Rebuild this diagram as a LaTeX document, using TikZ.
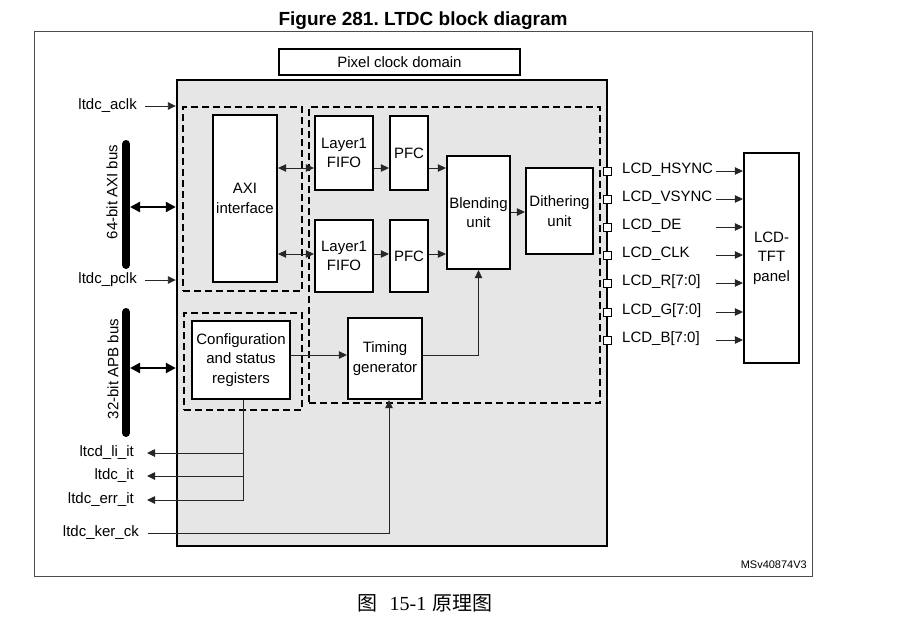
\documentclass[tikz,border=0pt]{standalone}
\usepackage{fontspec}
\setmainfont{Liberation Sans}
\newfontfamily\cjk{Noto Sans CJK SC}
\newfontfamily\serifnum{Liberation Serif}
\usetikzlibrary{arrows.meta,calc}
\definecolor{boxgray}{HTML}{E6E6E6}
\frenchspacing
\begin{document}
\begin{tikzpicture}[x=1pt,y=-1pt,font=\fontsize{15}{19.5}\selectfont,
  blk/.style={draw, line width=2.2pt, fill=white, align=center, inner sep=0pt},
  dom/.style={draw, line width=2pt, dash pattern=on 7pt off 4pt, inner sep=0pt},
  conn/.style={line width=0.9pt, draw=black!85},
  arr/.style={conn, -{Triangle[length=8pt,width=7.5pt]}},
  darr/.style={conn, {Triangle[length=8pt,width=7.5pt]}-{Triangle[length=8pt,width=7.5pt]}},
  busbar/.style={line width=8pt, line cap=round},
  busarr/.style={line width=2.2pt, {Triangle[length=10pt,width=10pt]}-{Triangle[length=10pt,width=10pt]}},
  lbl/.style={inner sep=0pt},
  pin/.style={draw, line width=0.8pt, fill=white, minimum size=8pt, inner sep=0pt}]
\useasboundingbox (0,0) rectangle (911,622);

% frame and title
\node[draw=black!70, line width=0.8pt, minimum width=778pt, minimum height=545pt, inner sep=0pt] (frame) at (423,303.5) {};
\node[lbl, anchor=base, font=\fontsize{19}{22}\selectfont\bfseries] (title) at (423,25) {Figure 281. LTDC block diagram};

% main box
\node[draw, line width=2.4pt, fill=boxgray, minimum width=430pt, minimum height=466pt, inner sep=0pt] (main) at (392,313) {};
\node[blk, minimum width=241pt, minimum height=26pt] (pcd) at (399.5,62) {Pixel clock domain};

% domains
\node[dom, minimum width=119pt, minimum height=184pt] (axidom) at (242.5,199) {};
\node[dom, minimum width=118pt, minimum height=97pt] (cfgdom) at (243,361.5) {};
\node[dom, minimum width=291pt, minimum height=296pt] (pixdom) at (454.5,255) {};

% blocks
\node[blk, minimum width=64pt, minimum height=167pt] (axi) at (245,198.5) {AXI\\interface};
\node[blk, minimum width=58pt, minimum height=74pt] (fifo1) at (344,153) {Layer1\\FIFO};
\node[blk, minimum width=58pt, minimum height=72pt] (fifo2) at (344,256) {Layer1\\FIFO};
\node[blk, minimum width=38pt, minimum height=74pt] (pfc1) at (409,153) {PFC};
\node[blk, minimum width=38pt, minimum height=72pt] (pfc2) at (409,256) {PFC};
\node[blk, minimum width=63pt, minimum height=113pt] (blend) at (478.5,212.5) {Blending\\unit};
\node[blk, minimum width=67pt, minimum height=86pt] (dither) at (559.5,211) {Dithering\\unit};
\node[blk, minimum width=98pt, minimum height=78pt] (cfg) at (241,360) {Configuration\\and status\\registers};
\node[blk, minimum width=74pt, minimum height=81pt] (timing) at (385,358.5) {Timing\\generator};
\node[blk, minimum width=55pt, minimum height=210pt] (panel) at (771.5,258) {LCD-\\TFT\\panel};

% internal connectors
\draw[darr] (axi.east |- 0,168) -- (fifo1.west |- 0,168);
\draw[darr] (axi.east |- 0,254) -- (fifo2.west |- 0,254);
\draw[arr] (fifo1.east |- 0,168) -- (pfc1.west |- 0,168);
\draw[arr] (fifo2.east |- 0,254) -- (pfc2.west |- 0,254);
\draw[arr] (pfc1.east |- 0,168) -- (blend.west |- 0,168);
\draw[arr] (pfc2.east |- 0,254) -- (blend.west |- 0,254);
\draw[arr] (blend.east |- 0,212) -- (dither.west |- 0,212);
\draw[arr] (cfg.east |- 0,355) -- (timing.west |- 0,355);
\draw[arr] (timing.east |- 0,355) -| (blend.south);

% left clocks
\node[lbl, anchor=east] (aclk) at (137,106) {ltdc\_aclk};
\node[lbl, anchor=east] (pclk) at (137,280) {ltdc\_pclk};
\draw[arr] ([xshift=8pt]aclk.east) -- (aclk.east -| main.west);
\draw[arr] ([xshift=8pt]pclk.east) -- (pclk.east -| main.west);

% buses
\coordinate (axitop) at (126,144);
\coordinate (axibot) at (126,265);
\coordinate (axiport) at (130,207);
\draw[busbar] (axitop) -- (axibot);
\draw[busarr] (axiport) -- (axiport -| main.west);
\node[lbl, rotate=90] (axilbl) at (112,192) {64-bit AXI bus};
\coordinate (apbtop) at (126,312);
\coordinate (apbbot) at (126,433);
\coordinate (apbport) at (130,368);
\draw[busbar] (apbtop) -- (apbbot);
\draw[busarr] (apbport) -- (apbport -| main.west);
\node[lbl, rotate=90] (apblbl) at (113,369) {32-bit APB bus};

% interrupts
\node[lbl, anchor=east] (liit) at (134,453) {ltcd\_li\_it};
\node[lbl, anchor=east] (itl) at (134,476) {ltdc\_it};
\node[lbl, anchor=east] (errit) at (134,500) {ltdc\_err\_it};
\node[lbl, anchor=east] (kerck) at (139,533) {ltdc\_ker\_ck};
\draw[arr] ($(cfg.south)+(2,0)$) |- ([xshift=13pt]liit.east);
\draw[arr] ($(cfg.south)+(2,0)$) |- ([xshift=13pt]itl.east);
\draw[arr] ($(cfg.south)+(2,0)$) |- ([xshift=13pt]errit.east);
\draw[arr] ([xshift=9pt]kerck.east) -| ($(timing.south)+(4,0)$);

% LCD pins
\foreach \i/\yy/\txt in {1/171/LCD\_HSYNC, 2/199/LCD\_VSYNC, 3/227/LCD\_DE, 4/255/LCD\_CLK, 5/283/{LCD\_R[7:0]}, 6/312/{LCD\_G[7:0]}, 7/340/{LCD\_B[7:0]}}{
  \node[pin] (p\i) at (607,\yy) {};
  \node[lbl, anchor=west] (l\i) at (622,\yy-1) {\txt};
  \draw[arr] ($(panel.west |- p\i)+(-27,0)$) -- (panel.west |- p\i);
}

% reference and caption
\node[lbl, anchor=base east, font=\fontsize{11}{13}\selectfont] (ms) at (807,568) {MSv40874V3};
\node[lbl, anchor=base, font=\fontsize{20}{24}\selectfont] (cap) at (425,610) {\cjk 图\hspace{12pt}{\serifnum 15-1}\hspace{6pt}原理图};
\end{tikzpicture}
\end{document}
